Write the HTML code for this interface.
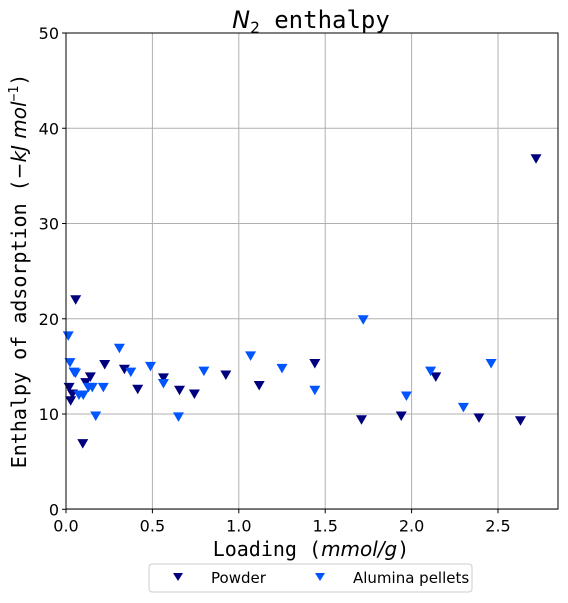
<!DOCTYPE html>
<html><head><meta charset="utf-8"><style>
body{margin:0;background:#fff;}
svg text{font-family:"DejaVu Sans","Liberation Sans",sans-serif;}
.mono{font-family:"DejaVu Sans Mono","Liberation Mono",monospace;}
</style></head><body>
<svg id="chart" width="568" height="598" viewBox="0 0 568 598" xmlns="http://www.w3.org/2000/svg">
<rect width="568" height="598" fill="#fff"/>
<g id="grid"></g>
<g id="ticks"></g>
<g id="marks"></g>
<rect x="66" y="33" width="492" height="476" fill="none" stroke="#000" stroke-width="1"/>
<text x="311" y="28" text-anchor="middle" class="mono" font-size="24"><tspan font-style="italic" font-family="DejaVu Sans">N</tspan><tspan font-size="16" dy="5">2</tspan><tspan dy="-5"> enthalpy</tspan></text>
<text x="311" y="556" text-anchor="middle" class="mono" font-size="20">Loading (<tspan font-style="italic" font-family="DejaVu Sans">mmol/g</tspan>)</text>
<text transform="translate(26,271) rotate(-90)" text-anchor="middle" class="mono" font-size="20">Enthalpy of adsorption (<tspan font-family="DejaVu Sans" font-style="italic">−kJ mol</tspan><tspan font-size="13" dy="-8">−1</tspan><tspan dy="8">)</tspan></text>
<g>
<rect x="149" y="564" width="323" height="28" rx="3" fill="#fff" stroke="#ccc"/>
<path d="M173,573 L183,573 L178,581 Z" fill="#00007f"/>
<text x="211" y="583" font-size="15">Powder</text>
<path d="M315,573 L325,573 L320,581 Z" fill="#0055ff"/>
<text x="353" y="583" font-size="15">Alumina pellets</text>
</g>
</svg>
<script>
const xTicks=[0,0.5,1.0,1.5,2.0,2.5];
const xTickLabels=["0.0","0.5","1.0","1.5","2.0","2.5"];
const yTicks=[0,10,20,30,40,50];
const yTickLabels=["0","10","20","30","40","50"];
const powderX=[0.056,0.018,0.027,0.037,0.097,0.114,0.141,0.224,0.338,0.415,0.564,0.657,0.743,0.925,1.118,1.44,1.71,1.94,2.14,2.39,2.63,2.72];
const powderY=[22.0,12.8,11.4,12.1,6.9,13.3,13.9,15.2,14.7,12.6,13.8,12.5,12.1,14.1,13.0,15.3,9.4,9.8,13.9,9.6,9.3,36.8];
const aluminaX=[0.013,0.023,0.046,0.055,0.075,0.1,0.13,0.152,0.172,0.216,0.309,0.375,0.489,0.564,0.651,0.798,1.068,1.25,1.44,1.72,1.97,2.11,2.30,2.46];
const aluminaY=[18.2,15.4,14.4,14.3,12.0,12.0,12.8,12.8,9.8,12.8,16.9,14.4,15.0,13.2,9.7,14.5,16.1,14.8,12.5,19.9,11.9,14.5,10.7,15.3];
const NS="http://www.w3.org/2000/svg";
const X0=66,X1=558,Y0=509.3,Y1=33;
function sx(v){return X0+v*172.8;}
function sy(v){return Y0-(v/50)*(Y0-Y1);}
const grid=document.getElementById('grid'),ticks=document.getElementById('ticks'),marks=document.getElementById('marks');
function mk(tag,attrs,parent){const e=document.createElementNS(NS,tag);for(const k in attrs)e.setAttribute(k,attrs[k]);parent.appendChild(e);return e;}
xTicks.forEach((t,i)=>{
  const x=sx(t);
  const g=mk('line',{x1:x,x2:x,y1:Y1,y2:Y0,stroke:'#b0b0b0','stroke-width':1},grid);
  
  
  const tk=mk('line',{x1:x,x2:x,y1:Y0,y2:Y0+4,stroke:'#000'},ticks);
  
  
  const tx=mk('text',{x:x,y:Y0+22,'text-anchor':'middle','font-size':16},ticks);
  tx.textContent=xTickLabels[i];
  
  
});
yTicks.forEach((t,i)=>{
  const y=sy(t);
  const g=mk('line',{x1:X0,x2:X1,y1:y,y2:y,stroke:'#b0b0b0','stroke-width':1},grid);
  
  
  const tk=mk('line',{x1:X0-4,x2:X0,y1:y,y2:y,stroke:'#000'},ticks);
  
  
  const tx=mk('text',{x:X0-7,y:y+6,'text-anchor':'end','font-size':16},ticks);
  tx.textContent=yTickLabels[i];
  
  
});
function tri(x,y,color){
  const cx=sx(x),cy=sy(y);
  return mk('path',{d:`M${cx-5.5},${cy-4.5} L${cx+5.5},${cy-4.5} L${cx},${cy+5} Z`,fill:color},marks);
}
powderX.forEach((v,i)=>{
  const p=tri(v,powderY[i],'#00007f');
  
  
});
aluminaX.forEach((v,i)=>{
  const p=tri(v,aluminaY[i],'#0055ff');
  
  
});
</script>
</body></html>
